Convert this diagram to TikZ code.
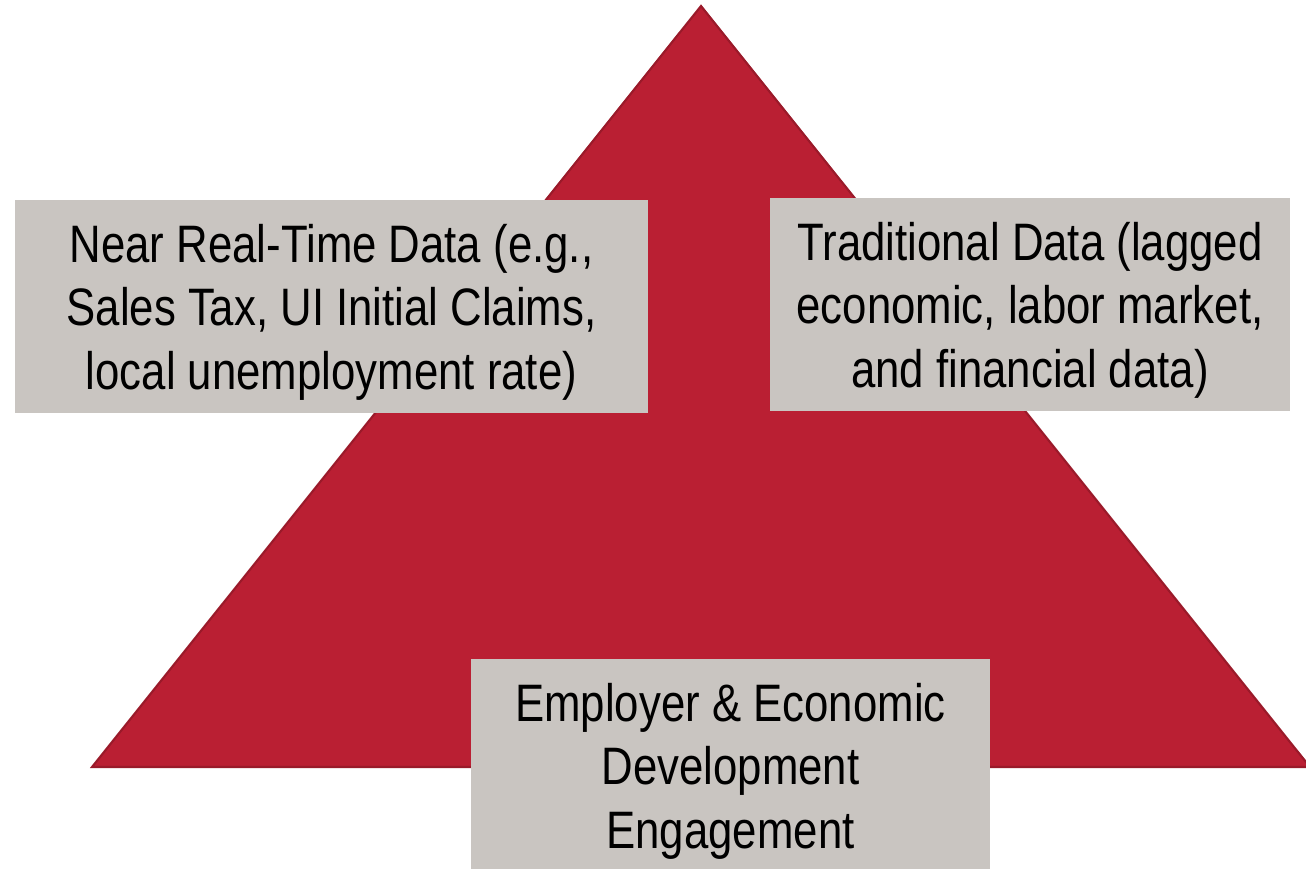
\documentclass[tikz,border=0pt]{standalone}
\usepackage{fontspec}
\setmainfont{Liberation Sans}
\newfontfamily\narrowfont[FakeStretch=0.83]{Liberation Sans}
\definecolor{pyrred}{HTML}{BA1F33}
\definecolor{pyredge}{HTML}{9A1A2A}
\definecolor{boxgray}{HTML}{C9C5C1}
\tikzset{
  databox/.style={fill=boxgray, draw=none, inner sep=0pt},
  boxtext/.style={align=center, inner sep=0pt,
    font=\narrowfont\fontsize{30}{36.2}\selectfont}
}
\begin{document}
\begin{tikzpicture}[x=0.02cm, y=-0.02cm]
    \useasboundingbox (0, 0) rectangle (1306, 869);
    \coordinate (apex) at (701, 6);
    \coordinate (baseL) at (92, 767);
    \coordinate (baseR) at (1310, 767);
    \fill[pyrred] (apex) -- (baseL) -- (baseR) -- cycle;
    \draw[pyredge, line width=1.2pt, line join=miter] (baseR) -- (apex) -- (baseL) -- (baseR);
    % boxes, text set a little low as in the source
    \node[databox, minimum width=12.66cm, minimum height=4.26cm] (nearreal) at (331.5, 306.5) {};
    \node[boxtext] (nearrealtxt) at (331.5, 312)
        {Near Real-Time Data (e.g.,\\Sales Tax, UI Initial Claims,\\local unemployment rate)};
    \node[databox, minimum width=10.4cm, minimum height=4.26cm] (traditional) at (1030, 304.5) {};
    \node[boxtext] (traditionaltxt) at (1030, 310)
        {Traditional Data (lagged\\economic, labor market,\\and financial data)};
    \node[databox, minimum width=10.38cm, minimum height=4.2cm] (employer) at (730.5, 764) {};
    \node[boxtext] (employertxt) at (730.5, 771)
        {Employer \& Economic\\Development\\Engagement};
\end{tikzpicture}
\end{document}
